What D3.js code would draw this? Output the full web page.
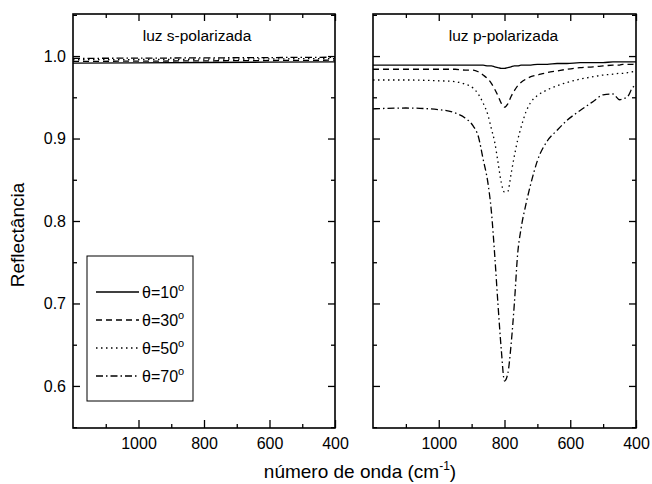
<!DOCTYPE html>
<html>
<head>
<meta charset="utf-8">
<script src="https://cdn.jsdelivr.net/npm/d3@7"></script>
<style>
  body { margin: 0; background: #fff; }
  svg { display: block; font-family: "Liberation Sans", Arial, sans-serif; }
</style>
</head>
<body>
<svg id="chart" width="652" height="484"></svg>
<script>
// ---------- DATA ----------
const panelTitles = ["luz s-polarizada", "luz p-polarizada"];
const xTickValues = [1000, 800, 600, 400];
const xMinorTicks = [1100, 900, 700, 500];
const yTickValues = [0.6, 0.7, 0.8, 0.9, 1.0];
const yMinorTicks = [0.55, 0.65, 0.75, 0.85, 0.95, 1.05];
const angles = ["10", "30", "50", "70"];

// s-polarized (left panel)
const wnS = [1200, 800, 400];
const s10 = [0.9915, 0.9922, 0.9930];
const s30 = [0.9935, 0.9942, 0.9950];
const s50 = [0.9955, 0.9962, 0.9970];
const s70 = [0.9972, 0.9978, 0.9986];

// p-polarized (right panel)
const wnP = [1200, 1100, 1000, 950, 920, 895, 880, 865, 850, 840, 830, 820, 810, 800, 790, 780, 770, 760, 750, 735, 720, 700, 670, 640, 610, 570, 530, 500, 470, 450, 440, 425, 410, 400];
const p10 = [0.989, 0.989, 0.989, 0.989, 0.989, 0.989, 0.989, 0.989, 0.988, 0.988, 0.987, 0.986, 0.985, 0.985, 0.986, 0.987, 0.988, 0.988, 0.989, 0.989, 0.989, 0.990, 0.990, 0.991, 0.991, 0.992, 0.992, 0.992, 0.993, 0.993, 0.993, 0.993, 0.993, 0.993];
const p30 = [0.984, 0.984, 0.984, 0.984, 0.983, 0.983, 0.981, 0.977, 0.972, 0.967, 0.960, 0.952, 0.943, 0.938, 0.942, 0.951, 0.958, 0.964, 0.968, 0.972, 0.975, 0.977, 0.980, 0.982, 0.984, 0.986, 0.987, 0.988, 0.989, 0.989, 0.990, 0.990, 0.990, 0.991];
const p50 = [0.971, 0.971, 0.970, 0.969, 0.966, 0.961, 0.954, 0.943, 0.928, 0.912, 0.896, 0.872, 0.847, 0.835, 0.836, 0.857, 0.879, 0.898, 0.913, 0.932, 0.944, 0.952, 0.959, 0.964, 0.968, 0.972, 0.975, 0.977, 0.978, 0.979, 0.979, 0.980, 0.981, 0.981];
const p70 = [0.936, 0.937, 0.935, 0.931, 0.925, 0.915, 0.903, 0.875, 0.845, 0.812, 0.760, 0.700, 0.645, 0.606, 0.615, 0.650, 0.700, 0.760, 0.790, 0.820, 0.845, 0.873, 0.897, 0.910, 0.922, 0.934, 0.945, 0.953, 0.954, 0.947, 0.948, 0.951, 0.962, 0.964];

// ---------- STYLE ----------
const dashes = [null, "6,4", "1.5,3.5", "7,3,1.5,3"];
const plotTop = 14, plotBottom = 428;
const panels = [
  { left: 73, right: 335, title: panelTitles[0], wn: wnS, series: [s10, s30, s50, s70], labelsY: true },
  { left: 373, right: 636, title: panelTitles[1], wn: wnP, series: [p10, p30, p50, p70], labelsY: false }
];

const svg = d3.select("#chart");
const y = d3.scaleLinear().domain([0.549, 1.051]).range([plotBottom, plotTop]);

panels.forEach(p => {
  const x = d3.scaleLinear().domain([1200, 400]).range([p.left, p.right]);
  const g = svg.append("g");

  // curves
  const line = d3.line().curve(d3.curveMonotoneX);
  p.series.forEach((vals, i) => {
    const pts = p.wn.map((w, j) => [x(w), y(vals[j])]);
    g.append("path")
      .attr("d", line(pts))
      .attr("fill", "none")
      .attr("stroke", "#000")
      .attr("stroke-width", 1.3)
      .attr("stroke-dasharray", dashes[i]);
  });

  // axes
  const styleAxis = sel => { sel.select(".domain").remove(); sel.selectAll("line").attr("stroke", "#000").attr("stroke-width", 1.3); };
  const bAxis = g.append("g").attr("transform", `translate(0,${plotBottom})`)
    .call(d3.axisBottom(x).tickValues(xTickValues).tickSize(-8).tickPadding(10).tickFormat(d3.format("d")));
  styleAxis(bAxis);
  bAxis.selectAll("text").attr("font-size", 16).attr("fill", "#000").attr("font-family", "Liberation Sans, Arial, sans-serif");
  styleAxis(g.append("g").attr("transform", `translate(0,${plotBottom})`)
    .call(d3.axisBottom(x).tickValues(xMinorTicks).tickSize(-4).tickFormat("")));
  styleAxis(g.append("g").attr("transform", `translate(0,${plotTop})`)
    .call(d3.axisTop(x).tickValues(xTickValues).tickSize(-7).tickFormat("")));
  styleAxis(g.append("g").attr("transform", `translate(0,${plotTop})`)
    .call(d3.axisTop(x).tickValues(xMinorTicks).tickSize(-4).tickFormat("")));

  const lAxis = g.append("g").attr("transform", `translate(${p.left},0)`)
    .call(d3.axisLeft(y).tickValues(yTickValues).tickSize(-7).tickPadding(7)
      .tickFormat(p.labelsY ? d3.format(".1f") : ""));
  styleAxis(lAxis);
  lAxis.selectAll("text").attr("font-size", 16).attr("fill", "#000").attr("font-family", "Liberation Sans, Arial, sans-serif");
  styleAxis(g.append("g").attr("transform", `translate(${p.left},0)`)
    .call(d3.axisLeft(y).tickValues(yMinorTicks).tickSize(-4).tickFormat("")));
  styleAxis(g.append("g").attr("transform", `translate(${p.right},0)`)
    .call(d3.axisRight(y).tickValues(yTickValues).tickSize(-7).tickFormat("")));
  styleAxis(g.append("g").attr("transform", `translate(${p.right},0)`)
    .call(d3.axisRight(y).tickValues(yMinorTicks).tickSize(-4).tickFormat("")));

  // frame
  g.append("rect")
    .attr("x", p.left).attr("y", plotTop)
    .attr("width", p.right - p.left).attr("height", plotBottom - plotTop)
    .attr("fill", "none").attr("stroke", "#000").attr("stroke-width", 1.6);

  // title
  g.append("text")
    .attr("x", (p.left + p.right) / 2 + (p.labelsY ? -7 : -1))
    .attr("y", 41)
    .attr("text-anchor", "middle")
    .attr("font-size", 15.5)
    .text(p.title);
});

// legend
const lg = svg.append("g");
lg.append("rect").attr("x", 87).attr("y", 256).attr("width", 106).attr("height", 145)
  .attr("fill", "#fff").attr("stroke", "#000").attr("stroke-width", 1);
angles.forEach((a, i) => {
  const yy = 292 + i * 28;
  lg.append("line").attr("x1", 96).attr("x2", 139).attr("y1", yy).attr("y2", yy)
    .attr("stroke", "#000").attr("stroke-width", 1.3).attr("stroke-dasharray", dashes[i]);
  const t = lg.append("text").attr("x", 142).attr("y", yy + 6).attr("font-size", 16);
  t.append("tspan").text("θ=" + a);
  t.append("tspan").attr("dy", -7).attr("font-size", 11).text("o");
});

// axis labels
svg.append("text")
  .attr("transform", "translate(24,235) rotate(-90)")
  .attr("text-anchor", "middle")
  .attr("font-size", 19)
  .text("Reflectância");

const xl = svg.append("text")
  .attr("x", 360).attr("y", 478)
  .attr("text-anchor", "middle")
  .attr("font-size", 19);
xl.append("tspan").text("número de onda (cm");
xl.append("tspan").attr("dy", -8).attr("font-size", 12).text("-1");
xl.append("tspan").attr("dy", 8).text(")");
</script>
</body>
</html>
